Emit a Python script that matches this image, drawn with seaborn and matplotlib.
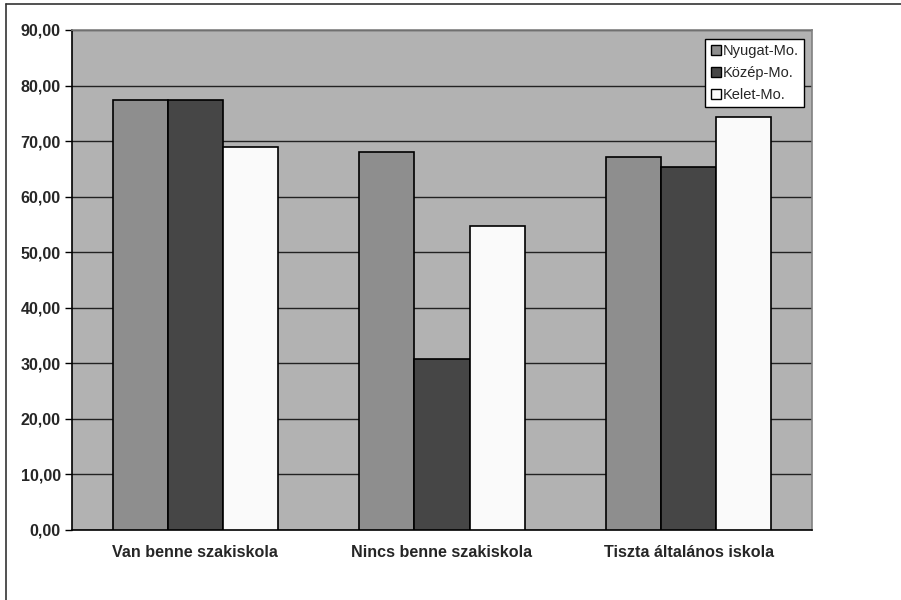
import matplotlib
matplotlib.use("Agg")
import matplotlib.pyplot as plt
import matplotlib.lines as mlines
from matplotlib.patches import Patch
from matplotlib.ticker import FuncFormatter, MultipleLocator
import seaborn as sns
import pandas as pd

# School types and regional values
categories = ["Van benne szakiskola", "Nincs benne szakiskola", "Tiszta általános iskola"]
regions = ["Nyugat-Mo.", "Közép-Mo.", "Kelet-Mo."]
nyugat = [77.4, 68.1, 67.1]
kozep = [77.4, 30.8, 65.3]
kelet = [68.9, 54.8, 74.4]
region_colors = ["#8e8e8e", "#464646", "#fafafa"]

rows = []
for reg, vals in zip(regions, [nyugat, kozep, kelet]):
    for cat, v in zip(categories, vals):
        rows.append({"kategoria": cat, "regio": reg, "ertek": v})
df = pd.DataFrame(rows)

sns.set_style("white")
plt.rcParams["font.family"] = ["Liberation Sans", "DejaVu Sans"]

fig = plt.figure(figsize=(9.01, 6.0), dpi=100)
ax = fig.add_axes([72 / 901, 1 - 530 / 600, 740 / 901, 500 / 600])
ax.set_facecolor("#b2b2b2")

sns.barplot(data=df, x="kategoria", y="ertek", hue="regio", order=categories,
            hue_order=regions, palette=region_colors, edgecolor="black",
            linewidth=1.2, width=0.67, saturation=1, ax=ax, legend=False, zorder=3)

ax.set_ylim(0, 90)
ax.set_xlim(-0.5, 2.5)
ax.yaxis.set_major_locator(MultipleLocator(10))
ax.yaxis.set_major_formatter(FuncFormatter(lambda v, p: f"{v:.2f}".replace(".", ",")))
ax.grid(axis="y", color="#222222", linewidth=1, zorder=1)
ax.set_axisbelow(True)

ax.set_xticks([0, 1, 2])
ax.set_xticks([-0.5, 0.5, 1.5, 2.5], minor=True)
ax.tick_params(axis="x", which="major", length=0, pad=11)
ax.tick_params(axis="x", which="minor", length=5, width=1, color="black", direction="out")
ax.tick_params(axis="y", length=5, width=1, color="black", direction="out", pad=3, left=True)
for lab in ax.get_xticklabels():
    lab.set_fontweight("bold")
    lab.set_fontsize(11.6)
for lab in ax.get_yticklabels():
    lab.set_fontweight("bold")
    lab.set_fontsize(11.6)
ax.set_xlabel("")
ax.set_ylabel("")

for side in ["left", "bottom"]:
    ax.spines[side].set_color("black")
    ax.spines[side].set_linewidth(1.2)
for side in ["top", "right"]:
    ax.spines[side].set_color("#808080")
    ax.spines[side].set_linewidth(1.2)

handles = [Patch(facecolor=c, edgecolor="black", linewidth=1, label=r)
           for c, r in zip(region_colors, regions)]
leg = ax.legend(handles=handles, loc="upper right",
                bbox_to_anchor=((804 - 72) / 740, (530 - 39) / 500),
                fontsize=10.5, handlelength=0.7, handleheight=0.7,
                handletextpad=0.15, labelspacing=0.55, borderpad=0.35,
                borderaxespad=0, fancybox=False, framealpha=1, edgecolor="black")
leg.get_frame().set_linewidth(1)
leg.get_frame().set_facecolor("white")

# Outer chart frame
fig.add_artist(mlines.Line2D([6 / 901, 1.0], [1 - 4 / 600, 1 - 4 / 600],
                             transform=fig.transFigure, color="#333333", linewidth=1.2))
fig.add_artist(mlines.Line2D([6 / 901, 6 / 901], [0.0, 1 - 4 / 600],
                             transform=fig.transFigure, color="#333333", linewidth=1.2))

fig.savefig("out.png", dpi=100)
